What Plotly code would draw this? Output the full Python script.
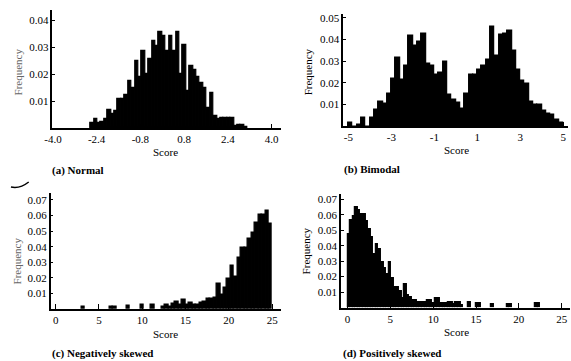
import plotly.graph_objects as go

W, H = 571, 361

# ---------------- data ----------------
normal_width = 0.125
normal_scores = [-2.5625, -2.4375, -2.3125, -2.1875, -2.0625, -1.9375, -1.8125, -1.6875,
                 -1.5625, -1.4375, -1.3125, -1.1875, -1.0625, -0.9375, -0.8125, -0.6875,
                 -0.5625, -0.4375, -0.3125, -0.1875, -0.0625, 0.0625, 0.1875, 0.3125,
                 0.4375, 0.5625, 0.6875, 0.8125, 0.9375, 1.0625, 1.1875, 1.3125,
                 1.4375, 1.5625, 1.6875, 1.8125, 1.9375, 2.0625, 2.1875, 2.3125,
                 2.4375, 2.5625, 2.6875, 2.8125, 2.9375, 3.0625]
normal_freq = [0.002, 0.0034, 0.0018, 0.0024, 0.0036, 0.0068, 0.0054, 0.0066,
               0.0107, 0.0107, 0.0125, 0.0175, 0.0150, 0.0250, 0.0190, 0.0286,
               0.0200, 0.0258, 0.0325, 0.0304, 0.0355, 0.0340, 0.0285, 0.0340,
               0.0286, 0.0355, 0.0200, 0.0310, 0.0137, 0.0230, 0.0215, 0.0190,
               0.0167, 0.0149, 0.0077, 0.0130, 0.0045, 0.0036, 0.0038, 0.0038,
               0.0038, 0.0038, 0.0010, 0.0012, 0.0012, 0.0005]

bimodal_width = 0.2
bimodal_scores = [-4.9, -4.7, -4.5, -4.3, -4.1, -3.9, -3.7, -3.5, -3.3, -3.1,
                  -2.9, -2.7, -2.5, -2.3, -2.1, -1.9, -1.7, -1.5, -1.3, -1.1,
                  -0.9, -0.7, -0.5, -0.3, -0.1, 0.1, 0.3, 0.5, 0.7, 0.9,
                  1.1, 1.3, 1.5, 1.7, 1.9, 2.1, 2.3, 2.5, 2.7, 2.9,
                  3.1, 3.3, 3.5, 3.7, 3.9, 4.1, 4.3, 4.5, 4.7, 4.9]
bimodal_freq = [0.0015, 0.0, 0.001, 0.004, 0.0, 0.004, 0.0077, 0.0115, 0.0104, 0.0153,
                0.022, 0.0316, 0.0214, 0.0282, 0.0417, 0.0374, 0.039, 0.043, 0.029, 0.0282,
                0.0237, 0.025, 0.0298, 0.0145, 0.0122, 0.0107, 0.008, 0.0153, 0.0237, 0.0237,
                0.026, 0.028, 0.031, 0.0458, 0.0328, 0.0423, 0.043, 0.044, 0.035, 0.026,
                0.021, 0.0198, 0.0115, 0.0099, 0.0099, 0.0072, 0.006, 0.0053, 0.003, 0.0015]

neg_width = 0.4
neg_scores = [3.2, 6.4, 6.8, 8.4, 10.0, 11.2, 12.4, 12.8, 13.2, 13.6, 14.0, 14.4, 14.8,
              15.2, 15.6, 16.0, 16.4, 16.8, 17.2, 17.6, 18.0, 18.4, 18.8, 19.2, 19.6,
              20.0, 20.4, 20.8, 21.2, 21.6, 22.0, 22.4, 22.8, 23.2, 23.6, 24.0, 24.4, 24.8]
neg_freq = [0.0017, 0.0017, 0.0017, 0.002, 0.003, 0.003, 0.0017, 0.0028, 0.0015, 0.0034,
            0.0045, 0.003, 0.006, 0.003, 0.004, 0.003, 0.003, 0.0038, 0.0045, 0.0066,
            0.0068, 0.0072, 0.016, 0.009, 0.0136, 0.0195, 0.028, 0.021, 0.033, 0.0396,
            0.0396, 0.045, 0.049, 0.0555, 0.0604, 0.0604, 0.0634, 0.055]

pos_width = 0.3
pos_scores = [0.15, 0.45, 0.75, 1.05, 1.35, 1.65, 1.95, 2.25, 2.55, 2.85, 3.15, 3.45,
              3.75, 4.05, 4.35, 4.65, 4.95, 5.25, 5.55, 5.85, 6.15, 6.45, 6.75, 7.05,
              7.35, 7.65, 7.95, 8.25, 8.55, 8.85, 9.15, 9.45, 9.75, 10.05, 10.35, 10.65,
              10.95, 11.25, 11.55, 11.85, 12.15, 12.45, 12.75, 13.05, 13.35, 14.25, 15.15,
              15.45, 16.95, 18.75, 19.05, 22.05, 22.35]
pos_freq = [0.0475, 0.0565, 0.0593, 0.0647, 0.063, 0.0604, 0.0604, 0.056, 0.0507, 0.0454,
            0.0347, 0.0407, 0.038, 0.0293, 0.0257, 0.0214, 0.0293, 0.019, 0.0133, 0.0133,
            0.0107, 0.0058, 0.0154, 0.008, 0.0064, 0.0047, 0.0047, 0.0032, 0.0032, 0.0032,
            0.0032, 0.0047, 0.0047, 0.003, 0.006, 0.006, 0.0026, 0.0026, 0.0026, 0.0036,
            0.0036, 0.002, 0.0032, 0.0032, 0.0015, 0.0036, 0.003, 0.003, 0.002, 0.002,
            0.002, 0.0026, 0.0026]

normal_ticks = [-4.0, -2.4, -0.8, 0.8, 2.4, 4.0]
normal_ticktext = ["-4.0", "-2.4", "-0.8", "0.8", "2.4", "4.0"]
bimodal_ticks = [-5, -3, -1, 1, 3, 5]
bimodal_ticktext = ["-5", "-3", "-1", "1", "3", "5"]
skew_ticks = [0, 5, 10, 15, 20, 25]
freq_ticks_a = [0.01, 0.02, 0.03, 0.04]
freq_ticks_b = [0.01, 0.02, 0.03, 0.04, 0.05]
freq_ticks_c = [0.01, 0.02, 0.03, 0.04, 0.05, 0.06, 0.07]

panel_titles = ["(a) Normal", "(b) Bimodal", "(c) Negatively skewed", "(d) Positively skewed"]

# ---------------- figure ----------------
FONT = "Liberation Serif"


def px_x(p):
    return p / W


def px_y(p):
    return 1 - p / H


fig = go.Figure()
sets = [
    (normal_scores, normal_freq, normal_width, "x", "y"),
    (bimodal_scores, bimodal_freq, bimodal_width, "x2", "y2"),
    (neg_scores, neg_freq, neg_width, "x3", "y3"),
    (pos_scores, pos_freq, pos_width, "x4", "y4"),
]
for xs, ys, w, xa, ya in sets:
    fig.add_trace(go.Bar(x=xs, y=ys, width=w, xaxis=xa, yaxis=ya,
                         marker=dict(color="black", line=dict(color="black", width=1.2)),
                         showlegend=False, hoverinfo="x+y"))


def xaxis(domain, rng, tv, tt, anchor):
    return dict(domain=domain, range=rng, anchor=anchor, showline=True, linecolor="black",
                linewidth=1.5, ticks="inside", ticklen=5, tickcolor="black", tickwidth=1,
                tickvals=tv, ticktext=tt, showgrid=False, zeroline=False,
                tickfont=dict(family=FONT, size=11, color="black"), fixedrange=True)


def yaxis(domain, rng, tv, anchor):
    return dict(domain=domain, range=rng, anchor=anchor, showline=True, linecolor="black",
                linewidth=1.5, ticks="inside", ticklen=3, tickcolor="black", tickwidth=1,
                tickvals=tv, ticktext=["%.2f" % v for v in tv], showgrid=False, zeroline=False,
                tickfont=dict(family=FONT, size=11, color="black"), fixedrange=True)


fig.update_layout(
    width=W, height=H, margin=dict(l=0, r=0, t=0, b=0),
    paper_bgcolor="white", plot_bgcolor="white", bargap=0,
    xaxis=xaxis([px_x(45), px_x(277)], [-4.02, 4.35], normal_ticks, normal_ticktext, "y"),
    yaxis=yaxis([px_y(127), px_y(8)], [0, 0.0438], freq_ticks_a, "x"),
    xaxis2=xaxis([px_x(340), px_x(568)], [-5.24, 5.22], bimodal_ticks, bimodal_ticktext, "y2"),
    yaxis2=yaxis([px_y(125), px_y(11.7)], [0, 0.052], freq_ticks_b, "x2"),
    xaxis3=xaxis([px_x(43.3), px_x(276.7)], [-0.57, 26.0], skew_ticks, [str(v) for v in skew_ticks], "y3"),
    yaxis3=yaxis([px_y(308.7), px_y(191.7)], [0, 0.0747], freq_ticks_c, "x3"),
    xaxis4=xaxis([px_x(337.7), px_x(570)], [-0.76, 25.97], skew_ticks, [str(v) for v in skew_ticks], "y4"),
    yaxis4=yaxis([px_y(307.3), px_y(193.3)], [0, 0.0732], freq_ticks_c, "x4"),
)

ann = []
# y titles
for (x, y, col) in [(10, 70, "#666666"), (304, 70, "black"), (9, 260, "#666666"), (302, 250, "black")]:
    ann.append(dict(text="Frequency", x=px_x(x), y=px_y(y), xref="paper", yref="paper",
                    textangle=-90, showarrow=False, xanchor="center", yanchor="middle",
                    font=dict(family=FONT, size=11, color=col)))
# x titles
for (x, y) in [(160, 151), (455, 149), (160, 334), (455, 332)]:
    ann.append(dict(text="Score", x=px_x(x), y=px_y(y), xref="paper", yref="paper",
                    showarrow=False, xanchor="center", yanchor="middle",
                    font=dict(family=FONT, size=11, color="black")))
# panel labels
for (txt, x, y) in zip(panel_titles, [43, 339, 43, 338], [169, 168, 353, 353]):
    ann.append(dict(text="<b>" + txt + "</b>", x=px_x(x), y=px_y(y), xref="paper", yref="paper",
                    showarrow=False, xanchor="left", yanchor="middle",
                    font=dict(family=FONT, size=11, color="black")))
fig.update_layout(annotations=ann)

# small stray pen stroke near panel (c)
fig.add_shape(type="path", xref="paper", yref="paper",
              path="M %f,%f Q %f,%f %f,%f" % (px_x(3), px_y(186), px_x(12), px_y(188), px_x(21), px_y(181)),
              line=dict(color="black", width=1.5))

fig.write_html("out.html")
